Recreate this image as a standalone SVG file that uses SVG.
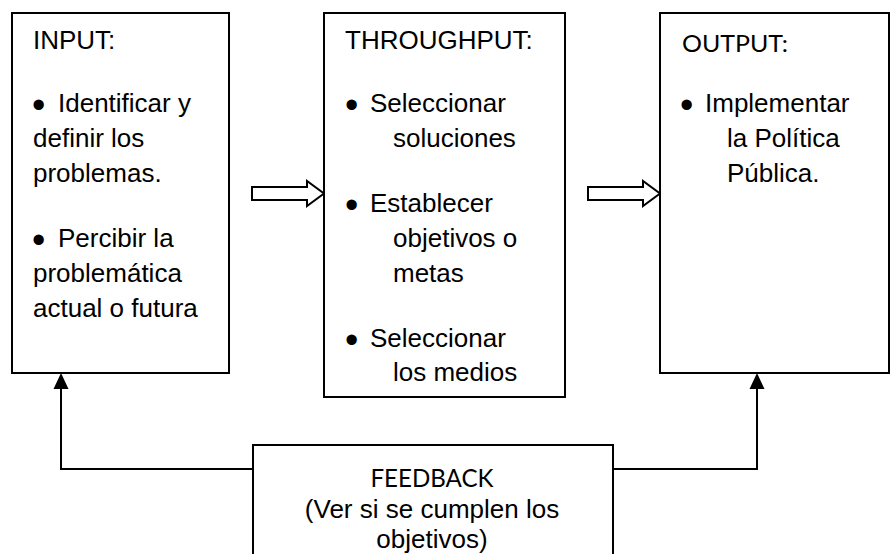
<svg xmlns="http://www.w3.org/2000/svg" width="890" height="554" viewBox="0 0 890 554">
<defs>
<style>
.box{fill:#fff;stroke:#000;stroke-width:2}
.t{font-family:"Liberation Sans",Arial,sans-serif;font-size:26px;fill:#000}
.c{font-family:Lato,"Open Sans",sans-serif;fill:#000}
.b{font-family:"Liberation Sans",Arial,sans-serif;font-size:38px;fill:#000}
.line{fill:none;stroke:#000;stroke-width:2}
.hollow{fill:#fff;stroke:#000;stroke-width:2;stroke-linejoin:miter}
</style>
<marker id="ah" viewBox="0 0 15 15" refX="7.5" refY="0" markerWidth="15" markerHeight="15" markerUnits="userSpaceOnUse" orient="auto-start-reverse">
<path d="M0,15 L7.5,0 L15,15 Z" fill="#000"/>
</marker>
</defs>
<rect width="890" height="554" fill="#fff"/>
<g id="connectors">
<path class="line" d="M253,469 H61 V375"/>
<path d="M53.5,389 L61,373 L68.5,389 Z" fill="#000"/>
<path class="line" d="M613,469 H757 V375"/>
<path d="M749.5,389 L757,373 L764.5,389 Z" fill="#000"/>
<path class="hollow" d="M252,187 H307 V181 L324,193.5 L307,206 V200 H252 Z"/>
<path class="hollow" d="M588,187 H643 V181 L660,193.5 L643,206 V200 H588 Z"/>
</g>
<g id="input">
<rect class="box" x="12" y="13" width="217" height="360"/>
<text class="t" x="33" y="49">INPUT:</text>
<text class="b" x="32" y="118">•</text>
<text class="t" x="58" y="112">Identificar y</text>
<text class="t" x="33" y="147">definir los</text>
<text class="t" x="33" y="182">problemas.</text>
<text class="b" x="32" y="253">•</text>
<text class="t" x="58" y="247">Percibir la</text>
<text class="t" x="33" y="282">problemática</text>
<text class="t" x="33" y="317">actual o futura</text>
</g>
<g id="throughput">
<rect class="box" x="324" y="13" width="241" height="384"/>
<text class="t" x="345" y="49">THROUGHPUT:</text>
<text class="b" x="345" y="118">•</text>
<text class="t" x="370" y="112">Seleccionar</text>
<text class="t" x="393" y="147">soluciones</text>
<text class="b" x="345" y="218">•</text>
<text class="t" x="370" y="212">Establecer</text>
<text class="t" x="393" y="247">objetivos o</text>
<text class="t" x="393" y="282">metas</text>
<text class="b" x="345" y="353">•</text>
<text class="t" x="370" y="347">Seleccionar</text>
<text class="t" x="393" y="381">los medios</text>
</g>
<g id="output">
<rect class="box" x="660" y="13" width="229" height="360"/>
<text class="c" x="682" y="51.5" font-size="24" textLength="106" lengthAdjust="spacingAndGlyphs">OUTPUT:</text>
<text class="b" x="680" y="118">•</text>
<text class="t" x="705" y="112">Implementar</text>
<text class="t" x="727" y="147">la Política</text>
<text class="t" x="727" y="182">Pública.</text>
</g>
<g id="feedback">
<rect class="box" x="253" y="445" width="360" height="120"/>
<text class="c" x="432" y="487" font-size="25" text-anchor="middle" textLength="123" lengthAdjust="spacingAndGlyphs">FEEDBACK</text>
<text class="t" x="432" y="518" text-anchor="middle">(Ver si se cumplen los</text>
<text class="t" x="432" y="548" text-anchor="middle">objetivos)</text>
</g>
</svg>
